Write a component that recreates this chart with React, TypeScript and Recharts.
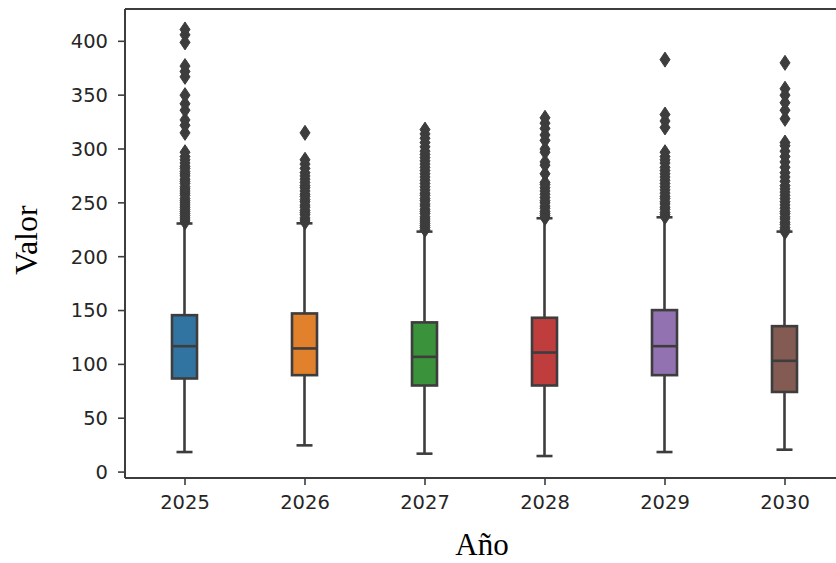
import React from 'react';
import { ComposedChart, Bar, Scatter, XAxis, YAxis, ReferenceLine } from 'recharts';

// ---- data ----
const years = ['2025', '2026', '2027', '2028', '2029', '2030'];
const whiskerLow = [18.6, 24.8, 17.1, 14.9, 18.6, 20.8];
const q1 = [86.9, 90.0, 80.4, 80.4, 90.0, 74.4];
const median = [116.9, 114.8, 107.0, 111.0, 116.9, 103.3];
const q3 = [145.7, 147.3, 139.0, 143.3, 150.4, 135.5];
const whiskerHigh = [230.8, 231.0, 223.3, 235.7, 236.6, 223.3];

const outliers2025 = [232, 234, 236, 238, 240, 242, 244, 246, 248, 250, 252, 254, 257, 259, 261, 263, 265, 268, 270, 272, 275, 277, 279, 282, 284, 287, 290, 293, 297, 315, 322, 327, 336, 342, 350, 367, 372, 377, 399, 406, 411];
const outliers2026 = [232, 234, 236, 239, 241, 243, 246, 248, 251, 253, 256, 258, 261, 264, 266, 269, 272, 275, 278, 282, 286, 290, 315];
const outliers2027 = [225, 227, 229, 231, 233, 235, 237, 240, 242, 244, 247, 249, 252, 254, 257, 259, 262, 265, 268, 271, 274, 277, 280, 283, 286, 289, 292, 295, 298, 302, 306, 310, 314, 318];
const outliers2028 = [236, 238, 240, 242, 245, 247, 250, 252, 255, 258, 261, 264, 267, 269, 277, 285, 288, 297, 300, 308, 313, 319, 324, 329];
const outliers2029 = [237, 239, 241, 244, 246, 249, 251, 254, 256, 259, 262, 265, 268, 271, 274, 277, 280, 283, 287, 290, 293, 297, 320, 326, 332, 383];
const outliers2030 = [223, 225, 227, 230, 232, 235, 237, 240, 242, 245, 248, 251, 254, 257, 260, 263, 266, 270, 274, 278, 283, 288, 293, 298, 303, 306, 328, 336, 343, 350, 356, 380];
const outliers = [outliers2025, outliers2026, outliers2027, outliers2028, outliers2029, outliers2030];

const yTicks = [0, 50, 100, 150, 200, 250, 300, 350, 400];

// ---- styles ----
const boxColors = ['#3274a1', '#e1812c', '#3a923a', '#c03d3e', '#9372b2', '#845b53'];
const lineColor = '#3d3d3d';
const textColor = '#262626';
const Y_MIN = -5.5;
const Y_MAX = 430;

const boxData = years.map((yr, i) => ({
  x: i,
  range: [whiskerLow[i], whiskerHigh[i]],
  lo: whiskerLow[i],
  hi: whiskerHigh[i],
  q1: q1[i],
  median: median[i],
  q3: q3[i],
}));

const flierData = outliers.flatMap((arr, i) => arr.map((v) => ({ x: i, y: v })));

const BoxShape = (props: any) => {
  const { x, y, width, height, payload, index } = props;
  if (x == null || y == null) return null;
  const top = Math.min(y, y + height);
  const h = Math.abs(height);
  const lo = payload.lo;
  const hi = payload.hi;
  const py = (v: number) => top + (h * (hi - v)) / (hi - lo);
  const cx = x + width / 2;
  const cap = width * 0.32;
  const sw = 2.6;
  return (
    <g>
      <line x1={cx} x2={cx} y1={py(hi)} y2={py(payload.q3)} stroke={lineColor} strokeWidth={sw} />
      <line x1={cx} x2={cx} y1={py(payload.q1)} y2={py(lo)} stroke={lineColor} strokeWidth={sw} />
      <line x1={cx - cap} x2={cx + cap} y1={py(hi)} y2={py(hi)} stroke={lineColor} strokeWidth={sw} />
      <line x1={cx - cap} x2={cx + cap} y1={py(lo)} y2={py(lo)} stroke={lineColor} strokeWidth={sw} />
      <rect
        x={x}
        y={py(payload.q3)}
        width={width}
        height={py(payload.q1) - py(payload.q3)}
        fill={boxColors[index % boxColors.length]}
        stroke={lineColor}
        strokeWidth={sw}
      />
      <line x1={x} x2={x + width} y1={py(payload.median)} y2={py(payload.median)} stroke={lineColor} strokeWidth={sw} />
    </g>
  );
};

const Diamond = (props: any) => {
  const { cx, cy } = props;
  if (cx == null || cy == null) return null;
  const hw = 5;
  const hh = 7.5;
  return <path d={`M${cx},${cy - hh}L${cx + hw},${cy}L${cx},${cy + hh}L${cx - hw},${cy}Z`} fill={lineColor} stroke={lineColor} strokeWidth={1} />;
};

const tickStyle = { fontFamily: 'DejaVu Sans', fontSize: 19.5, fill: textColor };
const labelFont = "'Liberation Serif', 'Times New Roman', serif";

export default function App() {
  return (
    <div style={{ position: 'fixed', left: 0, top: 0, width: 836, height: 563, overflow: 'hidden', background: '#fff' }}>
      <ComposedChart width={900} height={563} data={boxData} margin={{ top: 9, right: 55, bottom: 0, left: 0 }}>
        <XAxis
          xAxisId="main"
          dataKey="x"
          type="number"
          domain={[-0.5, 5.5]}
          ticks={[0, 1, 2, 3, 4, 5]}
          tickFormatter={(v: number) => years[v]}
          allowDataOverflow
          height={85}
          tick={tickStyle}
          tickSize={7}
          tickMargin={10}
          axisLine={{ stroke: lineColor, strokeWidth: 2 }}
          tickLine={{ stroke: lineColor, strokeWidth: 1.6 }}
          label={{
            content: () => (
              <text x={482} y={555} textAnchor="middle" fontFamily={labelFont} fontSize={31} fill="#000">
                Año
              </text>
            ),
          }}
        />
        <YAxis
          yAxisId="main"
          type="number"
          domain={[Y_MIN, Y_MAX]}
          allowDataOverflow
          ticks={yTicks}
          width={125}
          tick={tickStyle}
          tickSize={7}
          tickMargin={10}
          axisLine={{ stroke: lineColor, strokeWidth: 2 }}
          tickLine={{ stroke: lineColor, strokeWidth: 1.6 }}
          label={{
            content: () => (
              <text x={37} y={240} transform="rotate(-90 37 240)" textAnchor="middle" fontFamily={labelFont} fontSize={32} fill="#000">
                Valor
              </text>
            ),
          }}
        />
        <ReferenceLine xAxisId="main" yAxisId="main" y={Y_MAX} stroke={lineColor} strokeWidth={2} ifOverflow="visible" />
        <Bar
          xAxisId="main"
          yAxisId="main"
          dataKey="range"
          barSize={25}
          shape={<BoxShape />}
          isAnimationActive={false}
        />
        <Scatter
          xAxisId="main"
          yAxisId="main"
          data={flierData}
          dataKey="y"
          shape={<Diamond />}
          isAnimationActive={false}
        />
      </ComposedChart>
    </div>
  );
}
